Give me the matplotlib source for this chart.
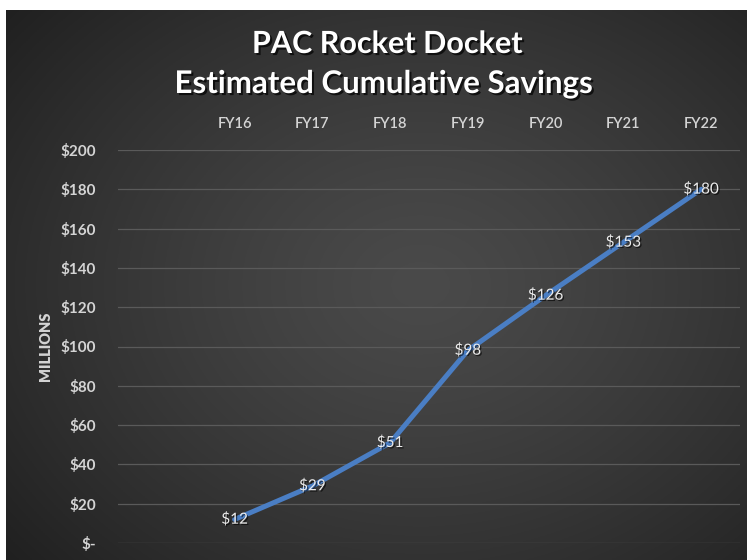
import numpy as np
import matplotlib.pyplot as plt
import matplotlib.patheffects as pe

plt.rcParams['font.family'] = ['Lato', 'DejaVu Sans']

# cumulative savings, millions of dollars
years = ['FY16', 'FY17', 'FY18', 'FY19', 'FY20', 'FY21', 'FY22']
savings = [12, 29, 51, 98, 126, 153, 180]
y_ticks = [0, 20, 40, 60, 80, 100, 120, 140, 160, 180, 200]
y_labels = ['$-'] + ['$' + str(v) for v in y_ticks[1:]]

W, H = 747, 560
fig = plt.figure(figsize=(W / 100, H / 100), dpi=100)
fig.patch.set_facecolor('white')

# dark panel with a soft radial glow
bg = fig.add_axes([6 / W, 0, (W - 6) / W, (H - 10) / H])
bg.set_axis_off()
gx, gy = np.meshgrid(np.linspace(0, 1, 400), np.linspace(0, 1, 300))
r = np.sqrt(((gx - 0.56) / 0.75) ** 2 + ((gy - 0.5) / 0.8) ** 2)
shade = 0.29 - 0.17 * np.clip(r, 0, 1) ** 1.3
bg.imshow(np.dstack([shade] * 3), extent=[0, 1, 0, 1], aspect='auto', origin='upper')
bg.set_xlim(0, 1)
bg.set_ylim(0, 1)

ax = fig.add_axes([118 / W, (H - 543) / H, (740 - 118) / W, (543 - 150) / H])
ax.patch.set_alpha(0)
x = np.arange(1, len(years) + 1)

ax.plot(x, savings, color='#4a7ec4', lw=3.6, solid_capstyle='round',
        solid_joinstyle='round', zorder=3)

shadow = [pe.withSimplePatchShadow(offset=(1, -1), shadow_rgbFace='black', alpha=0.6)]
for xi, v in zip(x, savings):
    ax.text(xi, v, '$' + str(v), ha='center', va='center', fontsize=11,
            color='#ececec', zorder=4, path_effects=shadow)

# one empty slot left of FY16
ax.set_xlim(-0.5, len(years) + 0.5)
ax.set_ylim(0, 200)
ax.set_yticks(y_ticks)
ax.set_yticklabels(y_labels, fontsize=11, fontweight='bold', color='#d4d4d4')
ax.set_xticks(x)
ax.set_xticklabels(years, fontsize=10.5, fontweight='semibold', color='#d4d4d4')
ax.xaxis.tick_top()
ax.tick_params(axis='x', length=0, pad=14)
ax.tick_params(axis='y', length=0, pad=16)
ax.grid(axis='y', color='#5a5a5a', lw=0.9)
for s in ax.spines.values():
    s.set_visible(False)

ax.set_ylabel('MILLIONS', fontsize=10.5, fontweight='heavy', color='#d4d4d4', labelpad=6)

title_fx = [pe.withSimplePatchShadow(offset=(1.5, -1.5), shadow_rgbFace='black', alpha=0.7)]
fig.text(387 / W, 1 - 44 / H, 'PAC Rocket Docket', ha='center', va='center',
         fontsize=22, fontweight='bold', color='white', path_effects=title_fx)
fig.text(384 / W, 1 - 84 / H, 'Estimated Cumulative Savings', ha='center', va='center',
         fontsize=22.5, fontweight='bold', color='white', path_effects=title_fx)

fig.savefig('out.png', dpi=100, facecolor=fig.get_facecolor())
